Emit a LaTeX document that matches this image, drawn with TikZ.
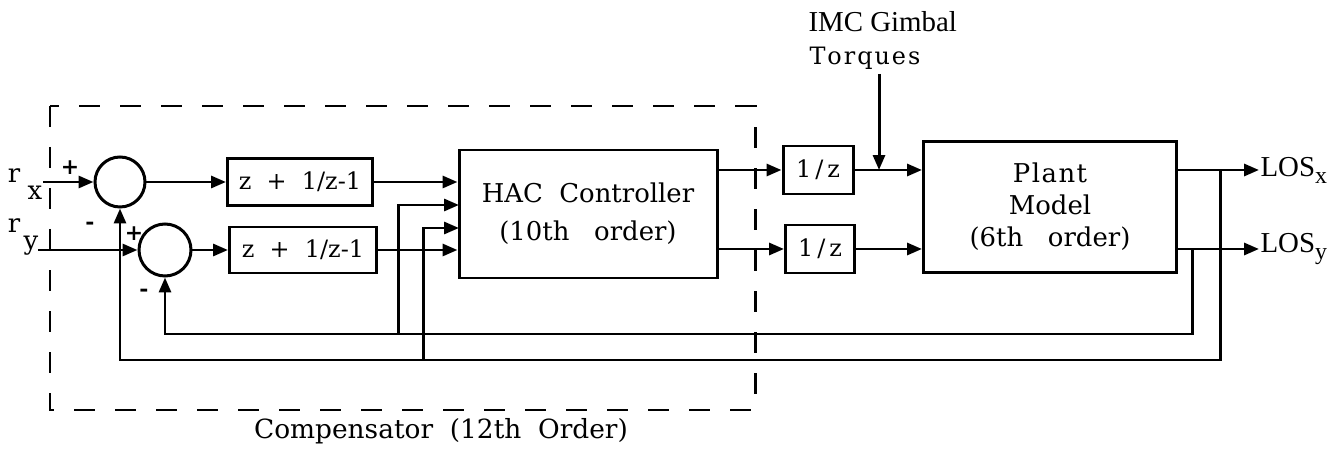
\documentclass[tikz,border=0pt]{standalone}
\usepackage{fontspec}
\setmainfont{DejaVu Serif}
\newfontfamily\timesf{Liberation Serif}
\usetikzlibrary{arrows.meta}
\begin{document}
\begin{tikzpicture}[x=1bp,y=-1bp,
  line width=3pt,
  blk/.style={draw, rectangle, inner sep=0pt, line width=3pt},
  sumc/.style={draw, circle, inner sep=0pt, minimum size=50bp, line width=3pt},
  arr/.style={-{Triangle[length=15pt,width=12pt]}},
  lbl/.style={font=\fontsize{24}{32}\selectfont, inner sep=0pt, align=center},
  tlbl/.style={font=\timesf\fontsize{29}{32}\selectfont, inner sep=0pt, align=center},
  sgn/.style={font=\fontsize{22}{22}\selectfont\bfseries, inner sep=0pt},
  dashbox/.style={line width=3pt, dash pattern=on 21bp off 20bp},
  ]
\useasboundingbox (0,0) rectangle (1342,449);

% compensator boundary
\coordinate (cbA) at (50,106);
\coordinate (cbB) at (755,410);
\draw[dashbox] (cbA) rectangle (cbB);
\node[lbl, font=\fontsize{26.5}{32}\selectfont] (comp) at (441,431) {Compensator\ \ (12th\ \ Order)};

% summing junctions
\node[sumc] (s1) at (120,182) {};
\node[sumc, minimum size=52bp] (s2) at (165,250) {};

% blocks
\node[blk, lbl, minimum width=145bp, minimum height=47bp] (b1) at (300,182) {z\ \ +\ \ 1/z-1};
\node[blk, lbl, minimum width=147bp, minimum height=46bp] (b2) at (303,250) {z\ \ +\ \ 1/z-1};
\node[blk, lbl, minimum width=258bp, minimum height=128bp, font=\fontsize{26}{34}\selectfont] (hac) at (588,214) {HAC\ \ Controller\\[4pt](10th\ \ \ order)};
\node[blk, lbl, minimum width=70bp, minimum height=48bp] (d1) at (818,170) {1\,/\,z};
\node[blk, lbl, minimum width=69bp, minimum height=48bp] (d2) at (820,249) {1\,/\,z};
\node[blk, lbl, minimum width=253bp, minimum height=131bp, font=\fontsize{26}{32}\selectfont] (plant) at (1050,207) {P\hspace{1.5bp}l\hspace{1.5bp}a\hspace{1.5bp}n\hspace{1.5bp}t\\Model\\(6th\ \ \ order)};

% input labels
\node[lbl, font=\fontsize{26}{26}\selectfont] (rxr) at (14,176) {r};
\node[lbl, font=\fontsize{26}{26}\selectfont] (rxx) at (35,193) {x};
\node[lbl, font=\fontsize{26}{26}\selectfont] (ryr) at (14,226) {r};
\node[lbl, font=\fontsize{26}{26}\selectfont] (ryy) at (31,246) {y};
\coordinate (rxin) at (43,182);
\coordinate (ryin) at (38,250);

% signs
\node[sgn] (p1) at (70,168) {+};
\node[sgn] (m1) at (90,226) {-};
\node[sgn] (p2) at (134,234) {+};
\node[sgn] (m2) at (144,293) {-};

% torque label
\node[tlbl, anchor=west] (imc) at (807,22) {IMC Gimbal};
\node[lbl, anchor=west] (torq) at (808,58) {T\hspace{2bp}o\hspace{2bp}r\hspace{2bp}q\hspace{2bp}u\hspace{2bp}e\hspace{2bp}s};
\coordinate (tq) at (879,74);

% outputs
\node[tlbl, anchor=west] (losx) at (1259,170) {LOS\raisebox{-7bp}{\fontsize{24}{24}\selectfont x}};
\node[tlbl, anchor=west] (losy) at (1259,249) {LOS\raisebox{-7bp}{\fontsize{24}{24}\selectfont y}};

% forward path
\draw[arr] (rxin) -- (s1.west);
\draw[arr] (ryin) -- (s2.west);
\draw[arr] (s1.east) -- (b1.west);
\draw[arr] (s2.east) -- (b2.west);
\draw[arr] (b1.east) -- (b1.east -| hac.west);
\draw[arr] (b2.east) -- (b2.east -| hac.west);
\draw[arr] (hac.east |- d1.west) -- (d1.west);
\draw[arr] (hac.east |- d2.west) -- (d2.west);
\draw[arr] (d1.east) -- (d1.east -| plant.west);
\draw[arr] (d2.east) -- (d2.east -| plant.west);
\draw[arr] (tq) -- (tq |- d1.east);
\draw[arr] (plant.east |- losx.west) -- (losx.west);
\draw[arr] (plant.east |- losy.west) -- (losy.west);

% feedback
\coordinate (fx) at (1220,170);
\coordinate (fy) at (1192,249);
\coordinate (fyb) at (1192,334);
\coordinate (fxb) at (1220,360);
\draw[arr] (fy) -- (fyb) -| (s2.south);
\draw[arr] (fx) -- (fxb) -| (s1.south);
\coordinate (t2) at (398,334);
\coordinate (t3) at (423,360);
\coordinate (in2) at (459,205);
\coordinate (in3) at (459,228);
\draw[arr] (t2) |- (in2);
\draw[arr] (t3) |- (in3);
\end{tikzpicture}
\end{document}
